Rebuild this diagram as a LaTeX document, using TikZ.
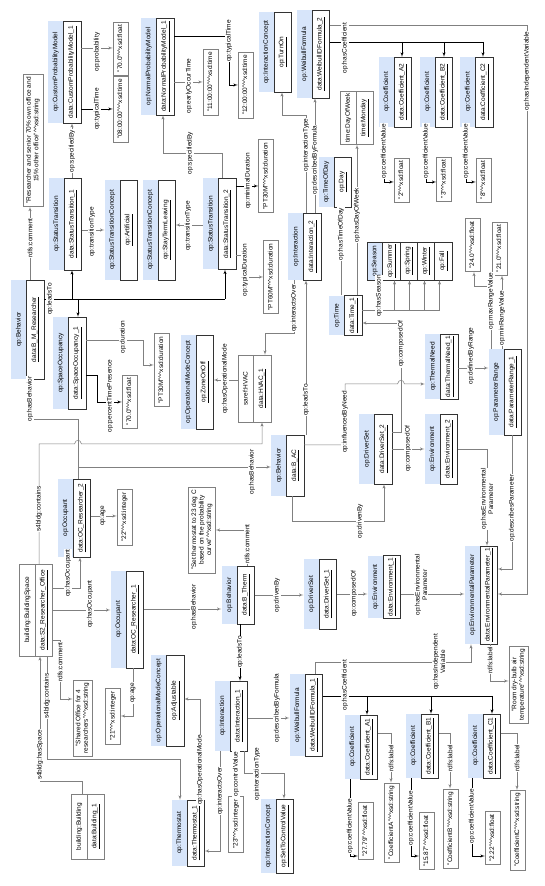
\documentclass[tikz,border=0pt]{standalone}
\usepackage{fontspec}
\setmainfont{Liberation Sans}
\usetikzlibrary{arrows,shapes.multipart}

\definecolor{hdrblue}{RGB}{215,229,250}
\definecolor{lngray}{RGB}{128,128,128}
\newcommand\fs{\fontsize{6.5}{7.5}\selectfont}
\newcommand\dt{\textasciicircum\textasciicircum}
\newcommand\st{\rule[-1.5pt]{0pt}{6.3pt}}
% object box: blue class header, framed instance part
\newcommand\obj[5]{%
  \node[obj, minimum width=#3pt] (#1) at (#2) {\st#4\nodepart{two}\st\underline{#5}};
  \draw[frame] (#1.text split west) rectangle (#1.south east);}
% plain object box (no class colour)
\newcommand\wobj[5]{%
  \node[wobj, minimum width=#3pt] (#1) at (#2) {\st#4\nodepart{two}\st\underline{#5}};}

\begin{document}
\begin{tikzpicture}[rotate=90, transform shape, x=1pt, y=-1pt, >=latex',
    every node/.style={font=\fs},
    obj/.style={rectangle split, rectangle split parts=2,
      rectangle split part fill={hdrblue,white}, inner xsep=2pt, inner ysep=4.4pt},
    wobj/.style={rectangle split, rectangle split parts=2, draw=lngray, fill=white,
      inner xsep=2pt, inner ysep=4.4pt},
    frame/.style={draw=black!80, line width=0.5pt},
    lit/.style={draw=lngray, fill=white, inner xsep=3pt, inner ysep=4.4pt,
      text height=4.8pt, text depth=1.5pt},
    litm/.style={draw=lngray, fill=white, align=center, inner xsep=3pt, inner ysep=3pt},
    lbl/.style={fill=white, inner sep=0.6pt, align=center},
    wire/.style={draw=lngray, line width=0.5pt},
    ln/.style={wire, ->},
    bwire/.style={draw=black, line width=0.5pt},
    bl/.style={bwire, ->}]

  \useasboundingbox (0,0) rectangle (886,545);

  % objects
  \obj{cpm}{814,64.5}{102}{op:CustomProbabilityModel}{data:CustomProbabilityModel\_1}
  \obj{npm}{819.5,157.5}{97}{op:NormalProbabilityModel}{data:NormalProbabilityModel\_1}
  \obj{st1}{662,65}{92}{op:StatusTransition}{data:StatusTransition\_1}
  \obj{st2}{662,219.5}{91}{op:StatusTransition}{data:StatusTransition\_2}
  \obj{artif}{656,121}{100}{op:StatusTransitionConcept}{op:Artificial}
  \obj{stl}{656,159}{100}{op:StatusTransitionConcept}{op:StayTermLeaving}
  \obj{turnon}{834,275}{80}{op:InteractionConcept}{op:TurnOn}
  \obj{wif2}{832,313}{88}{op:WeibullFormula}{data:WeibullIDFormula\_2}
  \obj{ca2}{794,395}{70}{op:Coefficient}{data:Coefficient\_A2}
  \obj{cb2}{794,436}{70}{op:Coefficient}{data:Coefficient\_B2}
  \obj{cc2}{794,476.5}{70}{op:Coefficient}{data:Coefficient\_C2}
  \obj{tod}{704,335}{50}{op:TimeOfDay}{op:Day}
  \wobj{dow}{768,357}{50}{time:DayOfWeek}{time:Monday}
  \obj{i2}{639.5,304.5}{67}{op:Interaction}{data:Interaction\_2}
  \obj{time1}{570.5,345.5}{36}{op:Time}{data:Time\_1}
  \node[rectangle split, rectangle split parts=5, draw=black!80, inner xsep=2pt,
    inner ysep=4.4pt, minimum width=38pt,
    rectangle split part fill={hdrblue,white,white,white,white}] (season) at (625,409.5)
    {\st op:Season\nodepart{two}\st\underline{op:Summer}\nodepart{three}\st\underline{op:Spring}%
     \nodepart{four}\st\underline{op:Winter}\nodepart{five}\st\underline{op:Fall}};
  \obj{bmr}{556.5,27.5}{99}{op:Behavior}{data:B\_M\_Researcher}
  \obj{so1}{523,69.5}{92}{op:SpaceOccupancy}{data:SpaceOccupancy\_1}
  \obj{zone}{504,197}{94}{op:OperationalModeConcept}{op:ZoneOnOff}
  \wobj{hvac}{497.5,254.5}{67}{saref:HVAC}{data:HVAC\_1}
  \obj{thn}{519.5,441.5}{65}{op:ThermalNeed}{data:ThermalNeed\_1}
  \obj{pr}{494,505}{86}{op:ParameterRange}{data:ParameterRange\_1}
  \obj{bac}{420.5,287.5}{61}{op:Behavior}{data:B\_AC}
  \obj{ds2}{437,375.5}{70}{op:DriverSet}{data:DriverSet\_2}
  \obj{env2}{437,441}{70}{op:Environment}{data:Environment\_2}
  \wobj{bspace}{276,36}{92}{building:BuildingSpace}{data:S2\_Researcher\_Office}
  \obj{ocr2}{368,74}{78}{op:Occupant}{data:OC\_Researcher\_2}
  \obj{ocr1}{266.5,127}{97}{op:Occupant}{data:OC\_Researcher\_1}
  \obj{bth}{291,238}{58}{op:Behavior}{data:B\_Therm}
  \obj{ds1}{292,320}{70}{op:DriverSet}{data:DriverSet\_1}
  \obj{env1}{299,384}{56}{op:Environment}{data:Environment\_1}
  \obj{ep1}{291,481}{98}{op:EnvironmentalParameter}{data:EnvironmentalParameter\_1}
  \obj{adj}{185.5,167.5}{91}{op:OperationalModeConcept}{op:Adjustable}
  \obj{thermo}{53,188}{66}{op:Thermostat}{data:Thermostat\_1}
  \obj{i1}{170,231}{70}{op:Interaction}{data:Interaction\_1}
  \obj{setc}{50,277}{74}{op:InteractionConcept}{op:SetToControlValue}
  \obj{wif1}{171,306}{82}{op:WeibullFormula}{data:WeibullIDFormula\_1}
  \obj{ca1}{139,361}{64}{op:Coefficient}{data:Coefficient\_A1}
  \obj{cb1}{140,422}{64}{op:Coefficient}{data:Coefficient\_B1}
  \obj{cc1}{140,484}{64}{op:Coefficient}{data:Coefficient\_C1}
  \wobj{bldg}{59.5,88}{65}{building:Building}{data:Building\_1}

  % literals
  \node[litm] (r70) at (745.5,33) {"Researcher and senior 70\% own office and\\15\% other office"\dt xsd:string};
  \node[lit] (f70a) at (837.5,120.5) {"70.0"\dt xsd:float};
  \node[lit] (t08) at (777,120.5) {"08:00:00"\dt xsd:time};
  \node[lit] (t11) at (804,210.5) {"11:00:00"\dt xsd:time};
  \node[lit] (t12) at (801,245.5) {"12:00:00"\dt xsd:time};
  \node[lit] (pt30a) at (710,266) {"PT30M"\dt xsd:duration};
  \node[lit] (pt60) at (609,271) {"PT60M"\dt xsd:duration};
  \node[lit] (f70b) at (484.5,129.5) {"70.0"\dt xsd:float};
  \node[lit] (pt30b) at (516,161.5) {"PT30M"\dt xsd:duration};
  \node[lit] (f24) at (641,472.5) {"24.0"\dt xsd:float};
  \node[lit] (f21) at (637.5,499.5) {"21.0"\dt xsd:float};
  \node[lit] (f2) at (706,401.5) {"2"\dt xsd:float};
  \node[lit] (f3) at (707,444) {"3"\dt xsd:float};
  \node[lit] (f8) at (706,483.5) {"8"\dt xsd:float};
  \node[lit] (c22) at (369,124.5) {"22"\dt xsd:integer};
  \node[lit] (c21) at (170,113) {"21"\dt xsd:integer};
  \node[litm] (shared) at (168,82.5) {"Shared Office for 4\\researchers"\dt xsd:string};
  \node[litm] (setcm) at (356,202) {"Set thermostat to 23 deg C\\based on the probability\\curve"\dt xsd:string};
  \node[lit] (i23) at (62,236) {"23"\dt xsd:integer};
  \node[lit] (f2779) at (55,365.5) {"27.79"\dt xsd:float};
  \node[lit] (stra) at (63.5,391.5) {"CoefficientA"\dt xsd:string};
  \node[lit] (f1587) at (45,426.5) {"15.87"\dt xsd:float};
  \node[lit] (strb) at (57.5,450.5) {"CoefficientB"\dt xsd:string};
  \node[lit] (f222) at (48,492.5) {"2.22"\dt xsd:float};
  \node[lit] (strc) at (56,517.5) {"CoefficientC"\dt xsd:string};
  \node[litm] (room) at (201.5,518.5) {"Room dry-bulb air\\temperature"\dt xsd:string};

  % connectors
  \draw[ln] (bmr.east |- 0,30) -- (r70.west |- 0,30);
  \draw[bwire] (587,0 |- bmr.south) -- (587,225);
  \draw[bl] (587,225) -- (st2.west |- 0,225);
  \draw[bl] (587,72) -- (st1.west |- 0,72);
  \draw[bl] (587,78) -- (so1.east |- 0,78);
  \draw[ln] (st1.east |- 0,72) -- (cpm.west |- 0,72);
  \draw[ln] (656,0 |- st1.south) -- (656,0 |- artif.north);
  \draw[ln] (661,0 |- st2.north) -- (661,0 |- stl.south);
  \draw[ln] (838,0 |- cpm.south) -- (838,0 |- f70a.north);
  \draw[bl] (777,0 |- cpm.south) -- (777,0 |- t08.north);
  \draw[ln] (804,0 |- npm.south) -- (804,0 |- t11.north);
  \draw[bl] (850,0 |- npm.south) -- (850,229) -- (801,229) -- (801,0 |- t12.north);
  \draw[ln] (st2.east |- 0,222) -- (733,222) -- (733,163) -- (npm.west |- 0,163);
  \draw[bl] (700,0 |- st2.south) -- (700,0 |- pt30a.north);
  \draw[ln] (631,0 |- st2.south) -- (631,245) -- (609,245) -- (609,0 |- pt60.north);
  \draw[ln] (i2.east |- 0,306) -- (771,306) -- (771,282) -- (turnon.west |- 0,282);
  \draw[ln] (i2.east |- 0,315) -- (wif2.west |- 0,315);
  \draw[bwire] (844,0 |- wif2.south) -- (844,483);
  \foreach \n/\yy in {ca2/402,cb2/444,cc2/483}
    \draw[bl] (844,\yy) -- (\n.east |- 0,\yy);
  \foreach \n/\f/\yy in {ca2/f2/384,cb2/f3/426,cc2/f8/466}
    \draw[bl] (\n.west |- 0,\yy) -- (704,\yy) -- (704,0 |- \f.north);
  \draw[ln] (861,0 |- wif2.south) -- (861,527) -- (292,527) -- (292,0 |- ep1.south);
  \draw[ln] (pr.west |- 0,512) -- (317,512) -- (317,0 |- ep1.south);
  \draw[ln] (437,0 |- env2.south) -- (437,487) -- (ep1.east |- 0,487);
  \draw[ln] (292,0 |- env1.south) -- (292,0 |- ep1.north);
  \draw[ln] (292,0 |- ds1.south) -- (292,0 |- env1.north);
  \draw[ln] (291,0 |- bth.south) -- (291,0 |- ds1.north);
  \draw[ln] (277,0 |- ocr1.south) -- (277,0 |- bth.north);
  \draw[ln] (bth.east |- 0,247) -- (356,247) -- (356,0 |- setcm.south);
  \draw[bl] (bth.west |- 0,240) -- (i1.east |- 0,240);
  \draw[ln] (i1.west |- 0,220) -- (35,220) -- (35,0 |- thermo.south);
  \draw[ln] (i1.west |- 0,236) -- (i23.east |- 0,236);
  \draw[ln] (i1.west |- 0,244) -- (113,244) -- (113,284) -- (setc.east |- 0,284);
  \draw[ln] (168,0 |- i1.south) -- (168,0 |- wif1.north);
  \draw[bwire] (190,0 |- wif1.south) -- (190,492);
  \foreach \n/\yy in {ca1/367,cb1/431,cc1/492}
    \draw[bl] (190,\yy) -- (\n.east |- 0,\yy);
  \foreach \n/\f/\yy in {ca1/f2779/350,cb1/f1587/411,cc1/f222/472}
    \draw[bl] (\n.west |- 0,\yy) -- (30,\yy) -- (30,0 |- \f.north);
  \foreach \n/\s/\yy in {ca1/stra/391,cb1/strb/450,cc1/strc/517}
    \draw[ln] (153,0 |- \n.south) -- (153,\yy) -- (\s.east |- 0,\yy);
  \draw[ln] (wif1.east |- 0,315) -- (224,315) -- (224,471) -- (ep1.west |- 0,471);
  \draw[ln] (ep1.west |- 0,490) -- (205,490) -- (205,0 |- room.north);
  \draw[ln] (370,0 |- ocr2.south) -- (370,0 |- c22.north);
  \draw[ln] (ocr1.west |- 0,133) -- (170,133) -- (170,0 |- c21.south);
  \draw[ln] (298,0 |- bspace.south) -- (298,80) -- (ocr2.west |- 0,80);
  \draw[ln] (276,0 |- bspace.south) -- (276,0 |- ocr1.north);
  \draw[ln] (246,0 |- bspace.south) -- (246,60) -- (187,60) -- (187,0 |- shared.north);
  \draw[ln] (bldg.east |- 0,82) -- (105,82) -- (105,40) -- (bspace.west |- 0,40);
  \draw[ln] (bspace.west |- 0,47) -- (127,47) -- (127,180) -- (thermo.east |- 0,180);
  \draw[ln] (bspace.east |- 0,39) -- (442,39) -- (442,74.5)
    .. controls (447,75.5) and (447,80.5) .. (442,81.5) -- (442,262) -- (hvac.west |- 0,262);
  \draw[ln] (ocr2.east |- 0,78) -- (467,78) -- (467,30) -- (bmr.west |- 0,30);
  \coordinate (j1) at (419,78);
  \draw[ln] (j1) -- (419,0 |- bac.north);
  \draw[ln] (i2.west |- 0,294) -- (553,294) -- (553,265) -- (hvac.east |- 0,265);
  \draw[ln] (bac.east |- 0,306) -- (i2.west |- 0,306);
  \draw[ln] (441,0 |- bac.south) -- (441,345) -- (502,345) -- (502,397.5)
    .. controls (507,398.5) and (507,403.5) .. (502,404.5) -- (502,0 |- thn.north);
  \draw[ln] (454,0 |- ds2.south) -- (454,401) -- (563,401) -- (563,0 |- time1.south);
  \draw[ln] (437,0 |- ds2.south) -- (437,0 |- env2.north);
  \draw[ln] (bac.west |- 0,292) -- (365,292) -- (365,384) -- (ds2.west |- 0,384);
  \draw[ln] (518,0 |- thn.south) -- (518,0 |- pr.north);
  \draw[ln] (pr.east |- 0,491) -- (600,491) -- (600,474) -- (f24.west |- 0,474);
  \draw[ln] (pr.east |- 0,502) -- (f21.west |- 0,502);
  \draw[ln] (time1.east |- 0,341) -- (tod.west |- 0,341);
  \draw[ln] (time1.east |- 0,357) -- (dow.west |- 0,357);
  \draw[wire] (576,0 |- time1.south) -- (576,439.5);
  \foreach \yy in {394.5,409.5,424.5,439.5}
    \draw[ln] (576,\yy) -- (season.west |- 0,\yy);
  \draw[bl] (511,0 |- so1.south) -- (511,97) -- (484,97) -- (484,0 |- f70b.north);
  \draw[ln] (546,0 |- so1.south) -- (546,143) -- (521,143) -- (521,0 |- pt30b.north);
  \draw[ln] (506,0 |- hvac.north) -- (506,0 |- zone.south);
  \draw[ln] (thermo.east |- 0,200) -- (187,200) -- (187,0 |- adj.south);

  % connector labels
  \foreach \t/\p in {rdfs:comment/{648,30}, op:leadsTo/{587,50}, op:specifiedBy/{735,72},
      op:transitionType/{654,92}, op:transitionType/{660,188}, op:probability/{834,97},
      op:typicalTime/{777,97}, op:earlyOccurTime/{800,189}, op:typicalTime/{845,229},
      op:specifiedBy/{733,190}, op:minimalDuration/{705,248}, op:typicalDuration/{616,245},
      op:interactionType/{741,306}, op:describedByFormula/{726,315}, op:hasCoefficient/{838,345},
      op:hasIndependentVariable/{815,527}, op:describesParameter/{378,512},
      op:composedOf/{292,354}, op:drivenBy/{291,277}, op:hasBehavior/{279,194},
      rdfs:comment/{342,247}, op:leadsTo/{234,240}, op:interactsOver/{95,220},
      op:controlValue/{112,236}, op:interactionType/{112,257}, op:describedByFormula/{178,277},
      op:hasCoefficient/{201,345}, rdfs:label/{226,490}, op:age/{370,103}, op:age/{193,133},
      op:hasOccupant/{313,68}, op:hasOccupant/{282,90}, rdfs:comment/{224,60},
      s4bldg:hasSpace/{131,40}, s4bldg:contains/{190,47}, s4bldg:contains/{377,39},
      op:hasBehavior/{487,30}, op:hasBehavior/{414,252}, op:interactsOver/{578,294},
      op:leadsTo/{486,306}, op:influencedByNeed/{464,345}, op:composedOf/{542,401},
      op:composedOf/{437,408}, op:drivenBy/{365,360}, op:definedByRange/{530,471},
      op:maxRangeValue/{585,491}, op:minRangeValue/{568,502}, op:hasTimeOfDay/{652,341},
      op:hasDayOfWeek/{671,357}, op:hasSeason/{590,379}, op:percentTimePresence/{490,110},
      op:duration/{549,123}, op:hasOperationalMode/{507,225}, op:hasOperationalMode/{116,200},
      op:coefficientValue/{60,350}, op:coefficientValue/{68,411}, op:coefficientValue/{70,472},
      rdfs:label/{128,391}, rdfs:label/{128,450}, rdfs:label/{128,517},
      op:coefficientValue/{735,384}, op:coefficientValue/{735,426}, op:coefficientValue/{735,466}}
    \node[lbl] at (\p) {\t};
  \node[lbl] at (387,487) {op:hasEnvironmental\\Parameter};
  \node[lbl] at (301,421) {op:hasEnvironmental\\Parameter};
  \node[lbl] at (224,439) {op:hasIndependent\\Variable};
\end{tikzpicture}
\end{document}
